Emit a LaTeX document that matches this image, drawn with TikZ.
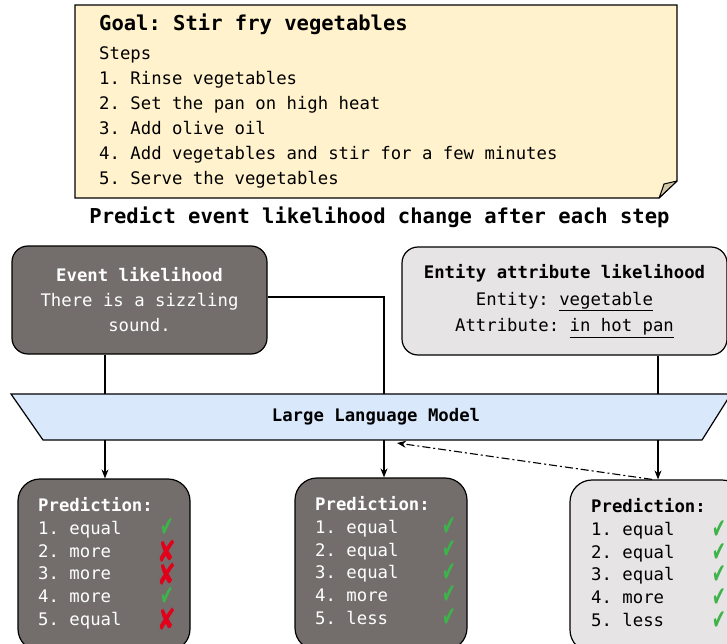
\documentclass[tikz,border=0pt]{standalone}
\usepackage{fontspec}
\usepackage{graphicx}
\usetikzlibrary{arrows.meta}
\newfontfamily\monof{DejaVu Sans Mono}
\newfontfamily\symf{DejaVu Sans}
\definecolor{notefill}{HTML}{FFF2CC}
\definecolor{foldfill}{HTML}{D3C6A6}
\definecolor{darkfill}{HTML}{736E6C}
\definecolor{lightfill}{HTML}{E6E4E4}
\definecolor{llmfill}{HTML}{DAE8FC}
\definecolor{okgreen}{HTML}{3DB34A}
\definecolor{badred}{HTML}{E3001B}
\newcommand\chk{{\color{okgreen}\raisebox{-10pt}[0pt][0pt]{\scalebox{0.58}[1]{\symf\fontsize{28}{28}\selectfont ✔}}}}
\newcommand\crs{{\color{badred}\raisebox{-10.5pt}[0pt][0pt]{\scalebox{0.78}[1.05]{\symf\fontsize{29}{29}\selectfont ✘}}}}
\begin{document}
\begin{tikzpicture}[x=1pt,y=-1pt,
  txt/.style={font=\monof\frenchspacing\fontsize{17.3}{25}\selectfont, inner sep=0pt},
  bigtxt/.style={font=\monof\frenchspacing\bfseries\fontsize{20.5}{25}\selectfont, inner sep=0pt},
  box/.style={draw, line width=1.2pt, inner sep=0pt},
  dark/.style={box, fill=darkfill, text=white},
  light/.style={box, fill=lightfill},
  conn/.style={line width=1.1pt},
  arr/.style={conn, -{Stealth[length=9pt,width=7pt]}},
  ddarr/.style={conn, dash pattern=on 8pt off 3pt on 2pt off 3pt, -{Stealth[length=9pt,width=7pt]}},
  predtxt/.style={txt, font=\monof\frenchspacing\fontsize{17.3}{22.7}\selectfont, align=left, anchor=north west},
  sym/.style={inner sep=0pt, anchor=center}
]
\useasboundingbox (0,0) rectangle (727,644);
\clip (0,0) rectangle (727,644);

% note
\draw[line width=1.2pt, fill=notefill] (75,5) -- (677,5) -- (677,181) -- (659,198) -- (75,198) -- cycle;
\draw[line width=1pt, fill=foldfill, line join=round] (677,181) -- (664,184) .. controls (662,190) .. (659,198) -- cycle;
\node[bigtxt, anchor=base west] (goal) at (99,31) {Goal: Stir fry vegetables};
\node[txt, align=left, anchor=north west] (steps) at (99,45) {\rule{0pt}{14pt}Steps\\1. Rinse vegetables\\2. Set the pan on high heat\\3. Add olive oil\\4. Add vegetables and stir for a few minutes\\5. Serve the vegetables};
\node[bigtxt, anchor=base] (task) at (379.5,223.5) {Predict event likelihood change after each step};

% inputs
\node[dark, rounded corners=16pt, minimum width=255pt, minimum height=108pt, align=center, txt]
  (ev) at (139.5,300) {\textbf{Event likelihood}\\There is a sizzling\\sound.};
\node[light, rounded corners=16pt, minimum width=325pt, minimum height=108pt, align=center, txt, font=\monof\frenchspacing\fontsize{17.3}{26.5}\selectfont]
  (ent) at (564.5,301) {\textbf{Entity attribute likelihood}\\Entity: \underline{vegetable}\\Attribute: \underline{in hot pan}};

% LLM
\draw[line width=1.2pt, fill=llmfill] (11,394) -- (731,394) -- (702,440) -- (43,440) -- cycle;
\node[txt, font=\monof\bfseries\fontsize{17.3}{25}\selectfont, minimum height=46pt, minimum width=600pt] (llm) at (376,417) {Large Language Model};

% prediction boxes
\node[dark, rounded corners=22pt, minimum width=172pt, minimum height=172pt] (pl) at (104,565) {};
\node[dark, rounded corners=22pt, minimum width=172pt, minimum height=172pt] (pc) at (381,564) {};
\node[light, rounded corners=22pt, minimum width=174pt, minimum height=172pt] (pr) at (657,566) {};

\node[predtxt, text=white] (tl) at (38,497.5) {\rule{0pt}{14pt}\textbf{Prediction:}\\1. equal\\2. more\\3. more\\4. more\\5. equal};
\node[predtxt, text=white] (tc) at (315,496.5) {\rule{0pt}{14pt}\textbf{Prediction:}\\1. equal\\2. equal\\3. equal\\4. more\\5. less};
\node[predtxt] (tr) at (591,498.5) {\rule{0pt}{14pt}\textbf{Prediction:}\\1. equal\\2. equal\\3. equal\\4. more\\5. less};

\node[sym] (l1) at (167,526) {\chk};
\node[sym] (l2) at (167,552) {\crs};
\node[sym] (l3) at (167,575) {\crs};
\node[sym] (l4) at (167,595) {\chk};
\node[sym] (l5) at (167,620) {\crs};

\node[sym] (c1) at (449,525) {\chk};
\node[sym] (c2) at (449,548) {\chk};
\node[sym] (c3) at (449,571) {\chk};
\node[sym] (c4) at (449,593) {\chk};
\node[sym] (c5) at (449,616) {\chk};

\node[sym] (r1) at (719,528) {\chk};
\node[sym] (r2) at (719,551) {\chk};
\node[sym] (r3) at (719,573) {\chk};
\node[sym] (r4) at (719,596) {\chk};
\node[sym] (r5) at (719,619) {\chk};

% connectors
\coordinate (lx) at (105,0);
\coordinate (cx) at (384,0);
\coordinate (rx) at (658,0);
\coordinate (ddend) at (397,443);
\draw[conn] (ev.south -| lx) -- (lx |- llm.north);
\draw[conn] (ev.east |- 0,297) -| (cx |- llm.north);
\draw[conn] (ent.south -| rx) -- (rx |- llm.north);
\draw[arr] (lx |- llm.south) -- (lx |- pl.north);
\draw[arr] (cx |- llm.south) -- (cx |- pc.north);
\draw[arr] (rx |- llm.south) -- (rx |- pr.north);
\draw[ddarr] ([xshift=-5pt]pr.north) -- (ddend);
\end{tikzpicture}
\end{document}
